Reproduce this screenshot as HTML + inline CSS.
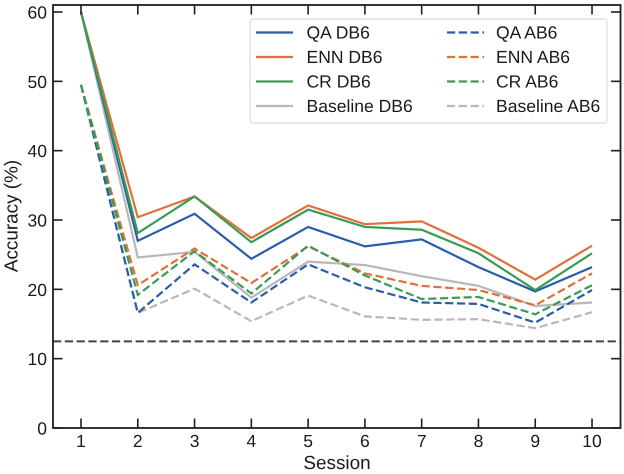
<!DOCTYPE html>
<html>
<head>
<meta charset="utf-8">
<style>
html,body{margin:0;padding:0;background:#fff;width:624px;height:474px;overflow:hidden}
svg{display:block;font-family:"Liberation Sans",Arial,sans-serif;text-rendering:geometricPrecision}
text{fill:#1a1a1a}
</style>
</head>
<body>
<svg id="chart" xmlns="http://www.w3.org/2000/svg" width="624" height="474" viewBox="0 0 624 474"></svg>
<script>
const sessions = [1, 2, 3, 4, 5, 6, 7, 8, 9, 10];
const yTicks = [0, 10, 20, 30, 40, 50, 60];
const chanceLevel = 12.5;
const baselineDB6 = [60, 24.6, 25.4, 18.8, 24.0, 23.5, 21.9, 20.5, 17.6, 18.1];
const qaDB6 = [60, 27.0, 30.9, 24.4, 29.0, 26.2, 27.2, 23.2, 19.7, 23.2];
const ennDB6 = [60, 30.4, 33.4, 27.4, 32.1, 29.4, 29.8, 26.0, 21.4, 26.3];
const crDB6 = [60, 28.1, 33.4, 26.8, 31.5, 29.0, 28.6, 25.2, 19.9, 25.2];
const baselineAB6 = [49.5, 16.6, 20.1, 15.4, 19.1, 16.1, 15.6, 15.7, 14.4, 16.7];
const qaAB6 = [49.5, 16.6, 23.6, 18.1, 23.6, 20.3, 18.1, 17.9, 15.2, 19.9];
const ennAB6 = [49.5, 20.6, 25.9, 20.9, 26.2, 22.3, 20.5, 19.9, 17.7, 22.3];
const crAB6 = [49.5, 19.2, 25.5, 19.4, 26.3, 22.0, 18.6, 18.9, 16.4, 20.6];

const BLUE = '#2a5caa', ORANGE = '#e0703a', GREEN = '#3a9b55', GRAY = '#b8b8b8', AXIS = '#1f1f1f';
const NS = 'http://www.w3.org/2000/svg';
const svg = document.getElementById('chart');
const L = 53, R = 620.5, T = 5, B = 428;
const xOf = v => 81 + (v - 1) * 56.78;
const yOf = v => 428 - v * 6.933;

function mk(tag, attrs, parent) {
  const el = document.createElementNS(NS, tag);
  for (const k in attrs) el.setAttribute(k, attrs[k]);
  (parent || svg).appendChild(el);
  return el;
}

function drawSeries(values, color, dashed, name) {
  const pts = values.map((v, i) => xOf(sessions[i]).toFixed(2) + ',' + yOf(v).toFixed(2)).join(' ');
  const el = mk('polyline', {points: pts, fill: 'none', stroke: color, 'stroke-width': 2.2, 'stroke-linejoin': 'miter'});
  if (dashed) el.setAttribute('stroke-dasharray', '8.2 3.6');
  
  
}

drawSeries(baselineDB6, GRAY, false, 'baseline-db6-line');
drawSeries(qaDB6, BLUE, false, 'qa-db6-line');
drawSeries(ennDB6, ORANGE, false, 'enn-db6-line');
drawSeries(crDB6, GREEN, false, 'cr-db6-line');
drawSeries(baselineAB6, GRAY, true, 'baseline-ab6-line');
drawSeries(qaAB6, BLUE, true, 'qa-ab6-line');
drawSeries(ennAB6, ORANGE, true, 'enn-ab6-line');
drawSeries(crAB6, GREEN, true, 'cr-ab6-line');

const chance = mk('line', {x1: L, x2: R, y1: yOf(chanceLevel), y2: yOf(chanceLevel), stroke: '#444', 'stroke-width': 2, 'stroke-dasharray': '8.2 3.6'});



sessions.forEach(s => {
  const x = xOf(s);
  const tb = mk('line', {x1: x, x2: x, y1: B, y2: B - 9.5, stroke: AXIS, 'stroke-width': 1.6});
  
  
  const tt = mk('line', {x1: x, x2: x, y1: T, y2: T + 9.5, stroke: AXIS, 'stroke-width': 1.6});
  
  
  const lb = mk('text', {x: x, y: 447, 'text-anchor': 'middle', 'font-size': 17.5});
  lb.textContent = s;
  
  
});

yTicks.forEach(v => {
  const y = yOf(v);
  const tl = mk('line', {x1: L, x2: L + 9.5, y1: y, y2: y, stroke: AXIS, 'stroke-width': 1.6});
  
  
  const tr = mk('line', {x1: R, x2: R - 9.5, y1: y, y2: y, stroke: AXIS, 'stroke-width': 1.6});
  
  
  const lb = mk('text', {x: 47, y: y + 6.5, 'text-anchor': 'end', 'font-size': 17.5});
  lb.textContent = v;
  
  
});

const frame = mk('rect', {x: L, y: T, width: R - L, height: B - T, fill: 'none', stroke: AXIS, 'stroke-width': 1.8});



const xt = mk('text', {x: 337, y: 469, 'text-anchor': 'middle', 'font-size': 18.9});
xt.textContent = 'Session';



const yt = mk('text', {x: 0, y: 0, 'text-anchor': 'middle', 'font-size': 18.9, transform: 'translate(17.5 216) rotate(-90)'});
yt.textContent = 'Accuracy (%)';



const legend = mk('g', {});


const box = mk('rect', {x: 250, y: 19, width: 357, height: 104, rx: 3, fill: '#fff', 'fill-opacity': 0.9, stroke: '#dcdcdc', 'stroke-width': 1.2}, legend);



const legendLabels = ['QA DB6', 'ENN DB6', 'CR DB6', 'Baseline DB6', 'QA AB6', 'ENN AB6', 'CR AB6', 'Baseline AB6'];
const legendColors = [BLUE, ORANGE, GREEN, GRAY, BLUE, ORANGE, GREEN, GRAY];
legendLabels.forEach((t, i) => {
  const col = i < 4 ? 0 : 1;
  const row = i % 4;
  const y = 32.5 + row * 24.5;
  const hx = col ? 447 : 256;
  const line = mk('line', {x1: hx, x2: hx + 37, y1: y, y2: y, stroke: legendColors[i], 'stroke-width': 2.2}, legend);
  if (col) line.setAttribute('stroke-dasharray', '8.2 3.6');
  
  
  const tx = mk('text', {x: col ? 496 : 306.5, y: y + 6, 'font-size': 17.55}, legend);
  tx.textContent = t;
  
  
});
</script>
</body>
</html>
